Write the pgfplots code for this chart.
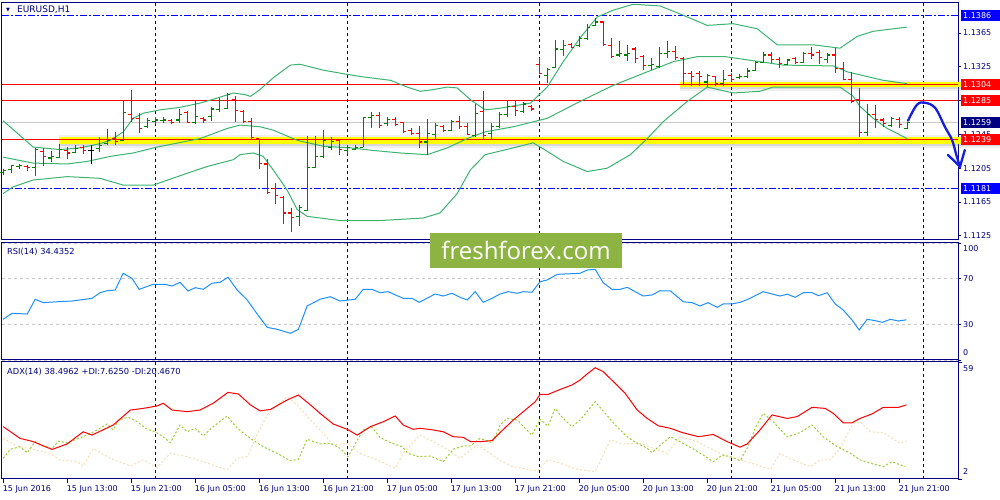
\documentclass[border=0pt]{standalone}
\usepackage{fontspec}
\setmainfont{DejaVu Sans}
\newfontfamily\wmfont{Open Sans}
\usepackage{pgfplots}
\usepackage{pgfplotstable}
\pgfplotsset{compat=1.18}
\definecolor{navy}{RGB}{0,0,128}
\definecolor{barup}{RGB}{0,128,0}
\definecolor{bardn}{RGB}{255,0,0}
\definecolor{bband}{RGB}{60,179,113}
\definecolor{rsiblue}{RGB}{30,144,255}
\definecolor{pdi}{RGB}{154,205,50}
\definecolor{mdi}{RGB}{245,222,179}
\definecolor{hly}{RGB}{255,255,0}
\definecolor{lvlblue}{RGB}{0,0,255}
\definecolor{wm}{RGB}{141,180,66}
\definecolor{arrowblue}{RGB}{20,30,220}
\definecolor{bidgray}{RGB}{200,200,200}
\newcommand{\tfont}{\fontsize{8}{9}\selectfont}

\pgfplotstableread{
i o h l c
0 1.1200 1.1204 1.1197 1.1202
1 1.1203 1.1208 1.1199 1.1208
2 1.1207 1.1210 1.1204 1.1208
3 1.1207 1.1209 1.1202 1.1206
4 1.1206 1.1229 1.1196 1.1227
5 1.1225 1.1229 1.1208 1.1219
6 1.1217 1.1225 1.1212 1.1219
7 1.1218 1.1234 1.1217 1.1227
8 1.1226 1.1230 1.1216 1.1223
9 1.1224 1.1232 1.1223 1.1228
10 1.1230 1.1232 1.1222 1.1226
11 1.1226 1.1232 1.1210 1.1226
12 1.1228 1.1242 1.1224 1.1232
13 1.1234 1.1251 1.1232 1.1238
14 1.1240 1.1248 1.1233 1.1237
15 1.1238 1.1285 1.1237 1.1271
16 1.1268 1.1298 1.1260 1.1264
17 1.1264 1.1270 1.1247 1.1252
18 1.1254 1.1264 1.1252 1.1261
19 1.1260 1.1265 1.1257 1.1262
20 1.1261 1.1265 1.1259 1.1262
21 1.1261 1.1263 1.1257 1.1259
22 1.1262 1.1275 1.1259 1.1268
23 1.1271 1.1273 1.1258 1.1259
24 1.1259 1.1285 1.1257 1.1266
25 1.1264 1.1265 1.1259 1.1262
26 1.1266 1.1277 1.1261 1.1275
27 1.1274 1.1288 1.1271 1.1285
28 1.1276 1.1294 1.1275 1.1292
29 1.1286 1.1290 1.1260 1.1273
30 1.1272 1.1274 1.1258 1.1260
31 1.1260 1.1264 1.1240 1.1241
32 1.1240 1.1240 1.1204 1.1211
33 1.1210 1.1216 1.1174 1.1176
34 1.1181 1.1187 1.1163 1.1173
35 1.1170 1.1172 1.1139 1.1152
36 1.1152 1.1158 1.1130 1.1147
37 1.1148 1.1161 1.1137 1.1158
38 1.1155 1.1243 1.1154 1.1206
39 1.1206 1.1243 1.1205 1.1219
40 1.1219 1.1250 1.1217 1.1238
41 1.1230 1.1242 1.1226 1.1237
42 1.1238 1.1240 1.1221 1.1227
43 1.1226 1.1232 1.1222 1.1230
44 1.1227 1.1232 1.1226 1.1230
45 1.1230 1.1265 1.1230 1.1265
46 1.1265 1.1271 1.1253 1.1267
47 1.1267 1.1271 1.1253 1.1255
48 1.1258 1.1265 1.1255 1.1263
49 1.1263 1.1265 1.1255 1.1257
50 1.1259 1.1260 1.1247 1.1248
51 1.1250 1.1252 1.1244 1.1246
52 1.1246 1.1255 1.1229 1.1236
53 1.1236 1.1263 1.1221 1.1246
54 1.1245 1.1259 1.1240 1.1255
55 1.1254 1.1256 1.1248 1.1250
56 1.1250 1.1262 1.1249 1.1260
57 1.1260 1.1267 1.1251 1.1254
58 1.1254 1.1259 1.1244 1.1245
59 1.1244 1.1281 1.1242 1.1270
60 1.1272 1.1296 1.1240 1.1244
61 1.1246 1.1258 1.1240 1.1254
62 1.1254 1.1272 1.1253 1.1268
63 1.1268 1.1285 1.1266 1.1278
64 1.1278 1.1286 1.1267 1.1273
65 1.1272 1.1283 1.1270 1.1281
66 1.1278 1.1280 1.1273 1.1275
67 1.1328 1.1335 1.1316 1.1317
68 1.1315 1.1324 1.1306 1.1322
69 1.1324 1.1357 1.1323 1.1346
70 1.1345 1.1357 1.1338 1.1350
71 1.1351 1.1353 1.1347 1.1348
72 1.1350 1.1361 1.1348 1.1359
73 1.1358 1.1376 1.1357 1.1371
74 1.1374 1.1383 1.1373 1.1378
75 1.1378 1.1379 1.1350 1.1351
76 1.1350 1.1359 1.1335 1.1337
77 1.1339 1.1356 1.1337 1.1341
78 1.1339 1.1351 1.1332 1.1341
79 1.1346 1.1349 1.1330 1.1335
80 1.1337 1.1339 1.1321 1.1326
81 1.1326 1.1335 1.1321 1.1328
82 1.1325 1.1348 1.1323 1.1341
83 1.1341 1.1356 1.1335 1.1343
84 1.1343 1.1350 1.1333 1.1336
85 1.1335 1.1336 1.1305 1.1317
86 1.1317 1.1320 1.1302 1.1314
87 1.1317 1.1320 1.1302 1.1313
88 1.1307 1.1317 1.1301 1.1315
89 1.1313 1.1314 1.1302 1.1305
90 1.1305 1.1321 1.1302 1.1310
91 1.1315 1.1318 1.1307 1.1310
92 1.1312 1.1316 1.1311 1.1314
93 1.1313 1.1323 1.1312 1.1320
94 1.1321 1.1332 1.1320 1.1330
95 1.1330 1.1343 1.1329 1.1339
96 1.1339 1.1343 1.1329 1.1334
97 1.1334 1.1336 1.1323 1.1329
98 1.1328 1.1334 1.1327 1.1333
99 1.1335 1.1336 1.1328 1.1330
100 1.1330 1.1343 1.1329 1.1341
101 1.1341 1.1349 1.1334 1.1339
102 1.1342 1.1345 1.1328 1.1336
103 1.1334 1.1341 1.1330 1.1339
104 1.1339 1.1347 1.1318 1.1323
105 1.1323 1.1331 1.1309 1.1310
106 1.1310 1.1319 1.1282 1.1284
107 1.1286 1.1300 1.1242 1.1247
108 1.1247 1.1281 1.1243 1.1268
109 1.1268 1.1280 1.1252 1.1263
110 1.1262 1.1264 1.1254 1.1258
111 1.1256 1.1266 1.1254 1.1264
112 1.1263 1.1265 1.1253 1.1257
113 1.1252 1.1260 1.1251 1.1259
}\bars

\pgfplotsset{
  panel/.style={
    scale only axis, width=956pt, xmin=-0.15, xmax=119.35,
    axis line style={navy, line width=1pt},
    tick style={navy, line width=0.8pt},
    tick align=outside, major tick length=3pt,
    ytick pos=right, yticklabel pos=right,
    tick label style={font=\tfont, text=navy},
    yticklabel style={anchor=west, inner sep=1pt, xshift=1pt},
    extra x ticks={19,43,67,91,115}, extra x tick labels={},
    extra tick style={grid=major, major tick length=0pt,
      major grid style={navy, line width=1pt, dash pattern=on 3pt off 3pt}},
  },
  up/.style={restrict expr to domain={\thisrow{c}-\thisrow{o}}{0.00001:1}, barup},
  dn/.style={restrict expr to domain={\thisrow{c}-\thisrow{o}}{-1:-0.00001}, bardn},
  dj/.style={restrict expr to domain={\thisrow{c}-\thisrow{o}}{-0.00001:0.00001}, black},
  hl/.style={mark=none, forget plot, line width=1.1pt, line cap=butt,
    quiver={u=0, v=\thisrow{h}-\thisrow{l}}},
  op/.style={mark=none, forget plot, line width=1.1pt, line cap=butt,
    quiver={u=0.38, v=0}},
}

\begin{document}
\begin{tikzpicture}
\fill[white] (0,0) rectangle (1000pt,500pt);
\path[use as bounding box] (0,0) rectangle (1000pt,500pt);

% ---------------- main price panel ----------------
\begin{axis}[panel, at={(2pt,260pt)}, anchor=south west, height=237pt,
  ymin=1.11200, ymax=1.14005, clip=false, xtick=\empty,
  ytick={1.1125,1.1165,1.1205,1.1245,1.1285,1.1325,1.1365},
  yticklabels={1.1125,1.1165,1.1205,1.1245,1.1285,1.1325,1.1365}]
% shadows and yellow highlights
\addplot[gray, opacity=0.12, line width=2pt, forget plot] coordinates {(6.97,1.12435) (124.6,1.12435)};
\addplot[gray, opacity=0.30, line width=2pt, forget plot] coordinates {(6.97,1.12322) (124.6,1.12322)};
\addplot[gray, opacity=0.12, line width=2pt, forget plot] coordinates {(6.97,1.12298) (124.6,1.12298)};
\addplot[hly, line width=7.5pt, forget plot] coordinates {(6.97,1.12380) (124.6,1.12380)};
\addplot[gray, opacity=0.12, line width=2pt, forget plot] coordinates {(84.6,1.13078) (124.6,1.13078)};
\addplot[gray, opacity=0.30, line width=2pt, forget plot] coordinates {(84.6,1.12993) (124.6,1.12993)};
\addplot[gray, opacity=0.12, line width=2pt, forget plot] coordinates {(84.6,1.12970) (124.6,1.12970)};
\addplot[hly, line width=5pt, forget plot] coordinates {(84.6,1.13035) (124.6,1.13035)};
% levels
\addplot[bidgray, line width=1pt, forget plot] coordinates {(-0.15,1.1259) (119.35,1.1259)};
\addplot[bardn, line width=1.2pt, forget plot] coordinates {(-0.15,1.1304) (119.35,1.1304)};
\addplot[bardn, line width=1.2pt, forget plot] coordinates {(-0.15,1.1285) (119.35,1.1285)};
\addplot[bardn, line width=1.2pt, forget plot] coordinates {(-0.15,1.1239) (119.35,1.1239)};
\addplot[lvlblue, line width=1.2pt, dash pattern=on 7pt off 2pt on 2pt off 2pt, forget plot] coordinates {(-0.15,1.1386) (119.35,1.1386)};
\addplot[lvlblue, line width=1.2pt, dash pattern=on 7pt off 2pt on 2pt off 2pt, forget plot] coordinates {(-0.15,1.1181) (119.35,1.1181)};
% Bollinger bands
\addplot[bband, line width=1pt, forget plot] coordinates {
(0,1.1261) (3.75,1.1230) (7.1,1.1227) (9.6,1.1229) (12.1,1.1234) (13.4,1.1238) (15,1.1248) (16.25,1.1264) (17.5,1.1270) (19.6,1.1274) (22.1,1.1277) (24.6,1.1282) (26.75,1.1288) (28.75,1.1294) (30.25,1.1292) (30.9,1.1290) (32.1,1.1298) (33.75,1.1312) (35.9,1.1327) (37.1,1.1328) (40,1.1321) (43,1.1316) (45,1.1313) (48.4,1.1309) (50.5,1.1301) (52.1,1.1296) (53.75,1.1298) (55.5,1.1301) (56.75,1.1300) (58.4,1.1286) (60.25,1.1274) (62.1,1.1276) (65.9,1.1282) (68,1.1301) (70,1.1331) (72.1,1.1359) (74.25,1.1384) (76.25,1.1392) (78.75,1.1399) (82.1,1.1397) (85,1.1386) (88,1.1374) (91.25,1.1376) (94.25,1.1370) (96.75,1.1351) (101.25,1.1351) (104.6,1.1347) (106.75,1.1361) (108.75,1.1367) (113,1.1372)};
\addplot[bband, line width=1pt, forget plot] coordinates {
(0,1.1218) (3.75,1.1211) (8,1.1210) (10.5,1.1213) (13.4,1.1219) (16.25,1.1223) (19.25,1.1230) (24.6,1.1240) (28,1.1252) (29.6,1.1256) (32.1,1.1254) (33.75,1.1250) (36.75,1.1238) (40,1.1231) (43.4,1.1229) (46.25,1.1226) (49.6,1.1223) (53,1.1221) (55.5,1.1229) (58,1.1240) (60.25,1.1248) (63.75,1.1254) (68,1.1264) (72.1,1.1284) (76.25,1.1303) (80.5,1.1319) (83.75,1.1331) (86.75,1.1337) (90.25,1.1337) (94.6,1.1331) (97.5,1.1327) (103.75,1.1326) (105.5,1.1319) (110,1.1309) (113,1.1305)};
\addplot[bband, line width=1pt, forget plot] coordinates {
(0,1.1175) (1.25,1.1183) (3.75,1.1191) (8,1.1195) (12.1,1.1193) (15,1.1185) (18.75,1.1185) (23,1.1199) (25.5,1.1207) (28.75,1.1215) (29.6,1.1221) (31.25,1.1223) (32.5,1.1219) (33.75,1.1203) (35.5,1.1179) (36.75,1.1156) (38,1.1148) (42.1,1.1143) (47.1,1.1143) (52.5,1.1146) (54.6,1.1152) (56.75,1.1175) (58.4,1.1203) (60.25,1.1221) (63.75,1.1229) (66.25,1.1235) (68,1.1225) (70,1.1213) (73,1.1201) (75.5,1.1205) (78.4,1.1221) (80.5,1.1240) (82.5,1.1260) (85.5,1.1284) (88,1.1301) (91.25,1.1294) (94.6,1.1296) (96.25,1.1301) (104.6,1.1301) (106.25,1.1290) (107.1,1.1278) (108.75,1.1264) (110.5,1.1252) (113,1.1240)};
% OHLC bars
\addplot[up, hl] table[x=i, y=l] {\bars};
\addplot[up, op] table[x expr=\thisrow{i}-0.38, y=o] {\bars};
\addplot[up, op] table[x=i, y=c] {\bars};
\addplot[dn, hl] table[x=i, y=l] {\bars};
\addplot[dn, op] table[x expr=\thisrow{i}-0.38, y=o] {\bars};
\addplot[dn, op] table[x=i, y=c] {\bars};
\addplot[dj, hl] table[x=i, y=l] {\bars};
\addplot[dj, op] table[x expr=\thisrow{i}-0.38, y=o] {\bars};
\addplot[dj, op] table[x=i, y=c] {\bars};
% hand-drawn forecast arrow
\addplot[arrowblue, line width=2.3pt, smooth, tension=0.6, line cap=round, forget plot] coordinates {
(113.1,1.12612) (114.2,1.12798) (115.2,1.12825) (116.5,1.12762) (117.7,1.12541) (118.6,1.12384) (119.2,1.12186) (119.6,1.12068)};
\addplot[arrowblue, line width=2.3pt, line cap=round, forget plot] coordinates {(118.1,1.12206) (119.6,1.12068) (120.2,1.12265)};
\coordinate (b1386) at (axis cs:119.35,1.1386);
\coordinate (b1304) at (axis cs:119.35,1.1304);
\coordinate (b1285) at (axis cs:119.35,1.1285);
\coordinate (b1259) at (axis cs:119.35,1.1259);
\coordinate (b1239) at (axis cs:119.35,1.1239);
\coordinate (b1181) at (axis cs:119.35,1.1181);
\end{axis}

% ---------------- RSI panel ----------------
\begin{axis}[panel, at={(2pt,140pt)}, anchor=south west, height=117pt,
  ymin=0, ymax=100, xtick=\empty,
  ytick={0,30,70,100}, yticklabels={,30,70,},
  ymajorgrids, major grid style={bidgray, line width=0.8pt, dash pattern=on 3pt off 3pt}]
\addplot[rsiblue, line width=1pt] coordinates {
(0,34.8) (1.1,39.9) (3,39.3) (4,51.9) (5,49) (6.75,49.8) (8.6,50.4) (11.1,52.7) (12.1,57.5) (13,59.2) (14,59.8) (15,74.1) (16.1,69.8) (17,60.4) (18.75,64.7) (20.25,64.7) (21.1,63.2) (22.1,66.4) (23.1,59) (24,61.8) (25,60.4) (26.1,65.6) (27.1,66.4) (28.1,70.7) (29.25,59.8) (30.5,51.3) (31.75,39.3) (33,27.9) (34.25,26.2) (35.9,22.8) (36.9,26.2) (38,46.2) (39.6,51.9) (40.9,54.1) (42.1,50.4) (44,51.9) (45,60.4) (46.1,60.4) (47.1,57.5) (48.1,58.4) (50,52.7) (51.1,52.7) (52,49.3) (54,56.4) (55,54.7) (56.1,57) (57.1,53.6) (58,51.3) (59,58.4) (60,49.3) (61.1,52.7) (62.1,56.4) (63.1,58.4) (64.25,57) (65,58.4) (66.1,57.9) (67.1,66.9) (68,68.4) (69.25,73.2) (72.1,74.1) (73,76.9) (74,77.5) (75,66.1) (76.1,60.4) (77.1,60.4) (78,62.1) (79,58.4) (80,54.7) (81.1,55.6) (82.1,59.2) (83.4,59) (85,49.8) (86.1,49) (87.1,46.2) (88.1,49) (89.25,45) (90,47.9) (91.1,47.9) (92.1,49.3) (93.1,51.9) (95,58.4) (96.1,56.4) (97.1,54.7) (98,56.2) (99,53.6) (100,57.5) (101.1,57.5) (101.9,55) (103,57.5) (104,47.9) (105,42.7) (106.1,34.2) (107,25.6) (108,34.8) (109,33.6) (109.9,32.2) (110.9,34.8) (111.9,33.3) (112.9,34.4)};
\end{axis}

% ---------------- ADX panel ----------------
\begin{axis}[panel, at={(2pt,21pt)}, anchor=south west, height=117pt,
  ymin=2, ymax=59, ytick={2,59}, yticklabels={,},
  xtick={0,8,...,112}, xtick pos=left, major tick length=4pt,
  xticklabels={15 Jun 2016,15 Jun 13:00,15 Jun 21:00,16 Jun 05:00,16 Jun 13:00,16 Jun 21:00,17 Jun 05:00,17 Jun 13:00,17 Jun 21:00,20 Jun 05:00,20 Jun 13:00,20 Jun 21:00,21 Jun 05:00,21 Jun 13:00,21 Jun 21:00},
  xticklabel style={anchor=north west, inner sep=0pt, xshift=-0.5pt, yshift=-2.5pt}]
\addplot[mdi, line width=1pt, dash pattern=on 2pt off 2pt] coordinates {
(0,21.8) (1.75,18) (3.75,16.5) (5.9,14.5) (7.1,11.3) (9.25,10.4) (10,8.3) (11.25,16.8) (13.4,12.1) (15.9,8.3) (17.5,11.3) (19.25,7.7) (20.9,14.5) (23,12.9) (25,10.4) (28,6.4) (29.25,12.1) (30.5,12.9) (31.9,25) (33,33.2) (34.4,38.5) (35.5,42.1) (36.75,38.1) (38.4,30.7) (40,24.3) (41.25,18.6) (43,19.4) (44.6,14.5) (46.75,11.3) (49,7.2) (50,14.5) (52.1,23.4) (53.75,20.2) (55.5,16.5) (57.1,12.1) (59.25,18.6) (60.9,14.5) (62.1,11) (63.75,8) (65.5,6.7) (66.75,5.9) (68.1,11.3) (69.6,9.7) (71.75,6.7) (74,5.6) (75.9,21) (77.5,19.1) (79.6,19.4) (81.25,17) (83,14.5) (84.6,22.6) (86.75,20.2) (88.75,16.1) (90.5,12.9) (92.1,11.3) (94.25,8.8) (95.9,6.7) (97.1,14.5) (98.75,11.3) (100.9,8) (102.1,11.3) (103.4,11.3) (104.6,17) (106.25,29.1) (107.1,29.9) (108.4,25) (110,24.6) (112.1,19.4) (112.9,20.5)};
\addplot[pdi, line width=1pt, dash pattern=on 2pt off 2pt] coordinates {
(0,12.1) (0.9,16.5) (2.1,17.7) (3,14.8) (4,20.2) (5,18) (6.1,16.8) (6.9,20.4) (8,19.6) (10,22.6) (11.1,24.6) (12.1,26.7) (13,28.8) (13.75,25.9) (14.4,30.7) (15.6,32.1) (16.75,29.9) (18,26.2) (19,25) (20,22.6) (20.9,19.7) (22.1,28.3) (23,25) (24,26.7) (25,23) (26.25,27.5) (28,32.7) (29.25,26.7) (30.9,21.8) (32.5,17.7) (34.25,14.5) (35.9,10.9) (36.9,11.6) (38,21.4) (39.6,19.1) (40.9,19.4) (42.1,17) (43.1,12.9) (45,25.9) (46.1,27.2) (47.1,22.3) (48.4,19.7) (49.9,17.7) (50.6,14.5) (51.9,12.9) (53.4,13.2) (55,10.4) (56.25,16.5) (57.5,18.1) (58.4,18.1) (59.6,21.8) (61.1,19.7) (61.9,25.9) (62.1,28.3) (63,31.5) (64.25,30.7) (65.25,26.7) (66.1,23.4) (67.1,31.1) (68.1,27.8) (69,36.4) (70,31.5) (71.1,27.5) (72.1,30.7) (74,39.6) (75.25,34) (76.5,28.3) (78,22.6) (79.25,19.4) (80.5,17) (81.1,14.8) (82.4,19.4) (83.4,22.6) (84.6,20.2) (86.1,17) (87.5,13.7) (88.75,10.4) (89.9,13.7) (90.9,12.9) (92.1,10.9) (93.1,17.7) (94,26.7) (95,34) (96.25,29.9) (98,22.6) (99.6,24.6) (101.1,28.3) (102.5,22.6) (104.25,17.7) (105.9,14.5) (107.1,11.3) (108.75,9.3) (110,8) (111.1,10.4) (112.75,8)};
\addplot[bardn, line width=1pt] coordinates {
(0,27.5) (2.1,21.8) (3.75,20.2) (6.1,16.4) (8,19.1) (10,25) (11.1,23.4) (13.75,28.3) (15.9,35.6) (17.5,36.4) (19.25,37.6) (20,38.9) (21.1,35.6) (23,34.8) (24.6,35.6) (26.25,38.9) (28.1,44.2) (29.4,43.4) (30.9,38.1) (32.1,35.2) (33.4,35.9) (35.5,40.5) (36.9,42.9) (38.4,38.1) (39.6,34) (41.25,28.8) (43,26.2) (44.25,23.4) (45.9,27.5) (47.5,29.9) (49,32.7) (50,28.3) (51.25,26.2) (52.1,26.7) (53.75,25.9) (55,25) (56.25,22.6) (57.5,22.3) (58.4,20.2) (59.6,20.2) (61.1,20.7) (62.1,24.6) (63.75,30.7) (65.5,36.4) (66.5,39.6) (67.1,43.2) (68.1,43.2) (69.6,45.6) (71.1,47.8) (72.1,50.2) (73,53.2) (74,56.2) (75,54.3) (76.5,48.6) (77.75,43.7) (79.25,35.6) (80.5,31.5) (81.9,27.9) (83.4,26.7) (84.9,24.6) (86.9,22.6) (88.75,23.7) (90.5,20.2) (92.1,17.5) (93,19.1) (94.6,25.9) (96.1,33.2) (98,31.5) (99.25,32.4) (101.1,36.9) (102.75,36.4) (103.75,34) (105,29.4) (106.1,29.4) (107.1,31.5) (108.6,33.7) (110,36.9) (111.9,36.9) (112.9,38.1)};
\end{axis}

% value boxes on the price scale
\tikzset{vbox/.style={anchor=west, minimum height=11pt, inner xsep=2pt, inner ysep=0pt, text width=35pt, align=left, font=\tfont, text=white}}
\node[vbox, fill=lvlblue] at ([xshift=3pt]b1386) {1.1386};
\node[vbox, fill=bardn] at ([xshift=3pt]b1304) {1.1304};
\node[vbox, fill=bardn] at ([xshift=3pt]b1285) {1.1285};
\node[vbox, fill=navy] at ([xshift=3pt]b1259) {1.1259};
\node[vbox, fill=bardn] at ([xshift=3pt]b1239) {1.1239};
\node[vbox, fill=lvlblue] at ([xshift=3pt]b1181) {1.1181};

% indicator scale labels
\node[anchor=west, inner sep=0pt, font=\tfont, text=navy] at (963pt,251pt) {100};
\node[anchor=west, inner sep=0pt, font=\tfont, text=navy] at (963pt,147pt) {0};
\node[anchor=west, inner sep=0pt, font=\tfont, text=navy] at (963pt,131pt) {59};
\node[anchor=west, inner sep=0pt, font=\tfont, text=navy] at (963pt,28pt) {2};

% panel titles
\node[anchor=west, inner sep=0pt, font=\fontsize{5}{5}\selectfont, text=navy] at (6pt,490pt) {▼};
\node[anchor=west, inner sep=0pt, font=\fontsize{9}{10}\selectfont, text=navy] at (17pt,490pt) {EURUSD,H1};
\node[anchor=west, inner sep=0pt, font=\fontsize{8.3}{9}\selectfont, text=navy] at (7pt,248pt) {RSI(14) 34.4352};
\node[anchor=west, inner sep=0pt, font=\fontsize{8.3}{9}\selectfont, text=navy] at (7pt,128.5pt) {ADX(14) 38.4962 +DI:7.6250 -DI:20.4670};

% watermark
\node[fill=wm, minimum width=192pt, minimum height=35pt, inner sep=0pt, text=white,
  font=\wmfont\fontsize{24}{24}\selectfont] at (526pt,249.5pt) {freshforex.com};
\end{tikzpicture}
\end{document}
